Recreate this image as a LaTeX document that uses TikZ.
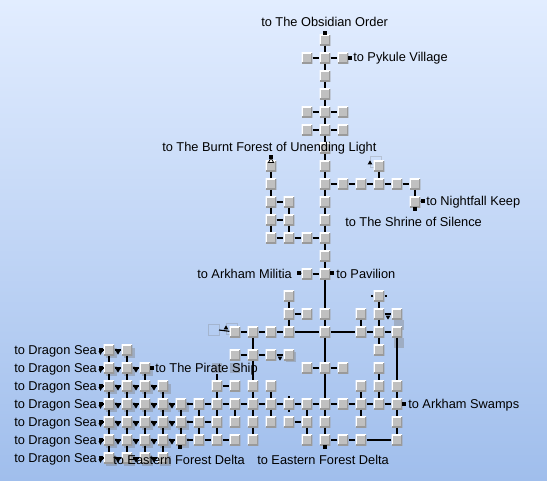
\documentclass[tikz,border=0pt]{standalone}
\usepackage{xcolor}
\usepackage{fontspec}
\setmainfont{Liberation Sans}
\usetikzlibrary{shapes.geometric}

\definecolor{roomgray}{HTML}{C0C0C0}
\definecolor{roomdark}{HTML}{9A9A9A}
\definecolor{bgtop}{HTML}{E2EDFF}
\definecolor{bgbottom}{HTML}{A0BEEC}

\tikzset{
    room/.style={minimum size=8pt, inner sep=0pt, fill=roomgray,
        path picture={
            \draw[white, line width=1.4pt] (path picture bounding box.south west) -- (path picture bounding box.north west) -- (path picture bounding box.north east);
            \draw[roomdark, line width=1.4pt] (path picture bounding box.south west) -- (path picture bounding box.south east) -- (path picture bounding box.north east);
        }},
    ghost/.style={minimum size=8pt, inner sep=0pt, fill=gray, fill opacity=0.4},
    ghostline/.style={minimum size=8pt, inner sep=0pt, draw=gray, draw opacity=0.3},
    link/.style={line width=0.85pt},
    exit/.style={minimum size=2.6pt, inner sep=0pt, fill=black},
    downmark/.style={regular polygon, regular polygon sides=3, shape border rotate=180, minimum size=4pt, inner sep=0pt, fill=black},
    upmark/.style={regular polygon, regular polygon sides=3, minimum size=4pt, inner sep=0pt, fill=black},
    label/.style={anchor=west, inner sep=0pt, yshift=-0.7pt, font=\fontsize{9.6pt}{11pt}\selectfont},
}

\begin{document}
\begin{tikzpicture}[x=0.75pt, y=-0.75pt]
    \shade[top color=bgtop, bottom color=bgbottom] (0,0) rectangle (547,480);
    \useasboundingbox (0,0) rectangle (547,480);

    % Ghost rooms
    \foreach \y/\xs in {350/{109,127}, 368/{109,127,145}, 386/{109,127,145,163}, 404/{109,127,145,163,181}, 422/{109,127,145,163,181}, 440/{109,127,145,163,181}, 458/{109,127,145,163}}
        \foreach \x in \xs
            \node[ghost] (g\x-\y) at (\x+2.5,\y+3) {};
    \node[ghost] (g399-325) at (399,325) {};
    \node[ghost] (g399-343) at (399,343) {};
    \node[ghost] (g291-357) at (291,357) {};
    \node[ghost] (g217-368) at (217,368) {};
    \node[ghost] (g235-368) at (235,368) {};
    \node[ghostline] (g376-162) at (376,162) {};
    \node[ghostline] (g214-330) at (214,330) {};
    \node[ghostline] (g232-329) at (232,329) {};

    % Rooms
    \foreach \y/\xs in {40/{325}, 58/{307,325,343}, 76/{325}, 94/{325}, 112/{307,325,343}, 130/{307,325,343}, 148/{325},
        166/{271,325,379}, 184/{271,325,343,361,379,397,415}, 202/{271,289,325,415}, 220/{271,289,325},
        238/{271,289,307,325}, 256/{325}, 274/{307,325}, 296/{289,379}, 314/{289,307,325,361,379,397},
        332/{235,253,271,289,325,361,379,397}, 350/{109,127,379}, 355/{235,253,271,289}, 368/{109,127,145,307,325,343,379},
        386/{109,127,145,163,217,235,253,271,361,379,397},
        404/{109,127,145,163,181,199,217,235,253,271,289,307,325,343,361,379,397},
        422/{109,127,145,163,181,199,217,235,253,271,289,307,325,361,397},
        440/{109,127,145,163,181,199,217,235,253,307,325,343,361,397}, 458/{109,127,145,163}}
        \foreach \x in \xs
            \node[room] (r\x-\y) at (\x,\y) {};

    % Main road
    \draw[link] (r325-40) -- (r325-58) -- (r325-76) -- (r325-94) -- (r325-112) -- (r325-130) -- (r325-148) -- (r325-166) -- (r325-184) -- (r325-202) -- (r325-220) -- (r325-238) -- (r325-256) -- (r325-274) -- (r325-314) -- (r325-332) -- (r325-368) -- (r325-404) -- (r325-422) -- (r325-440);
    \draw[link] (r307-58) -- (r325-58) -- (r343-58);
    \draw[link] (r307-112) -- (r325-112) -- (r343-112);
    \draw[link] (r307-130) -- (r325-130) -- (r343-130);
    \draw[link] (r325-184) -- (r343-184) -- (r361-184) -- (r379-184) -- (r397-184) -- (r415-184) -- (r415-202);
    \draw[link] (r379-166) -- (r379-184);
    \draw[link] (r271-166) -- (r271-184) -- (r271-202) -- (r271-220) -- (r271-238) -- (r289-238) -- (r307-238) -- (r325-238);
    \draw[link] (r289-202) -- (r289-220) -- (r289-238);
    \draw[link] (r271-202) -- (r289-202);
    \draw[link] (r271-220) -- (r289-220);
    \draw[link] (r307-274) -- (r325-274);

    % Middle
    \draw[link] (r235-332) -- (r253-332) -- (r271-332) -- (r289-332) -- (r325-332) -- (r361-332) -- (r379-332) -- (r397-332) -- (r397-386) -- (r397-404) -- (r397-422) -- (r397-440) -- (r361-440) -- (r343-440) -- (r325-440);
    \draw[link] (r289-296) -- (r289-314) -- (r289-332);
    \draw[link] (r289-314) -- (r307-314);
    \draw[link] (r361-314) -- (r361-332);
    \draw[link] (r379-296) -- (r379-314) -- (r379-332) -- (r379-350);
    \draw[link] (r379-314) -- (r397-314);
    \draw[link] (r235-355) -- (r253-355) -- (r271-355) -- (r289-355);
    \draw[link] (r253-332) -- (r253-355) -- (r253-386);
    \draw[link] (r307-368) -- (r325-368) -- (r343-368);
    \draw[link] (r379-368) -- (r379-386) -- (r379-404);
    \draw[link] (r361-386) -- (r361-404) -- (r361-422);
    \draw[link] (r253-386) -- (r253-404) -- (r253-422) -- (r253-440);
    \draw[link] (r271-386) -- (r271-404) -- (r271-422);
    \draw[link] (r289-422) -- (r307-422);
    \draw[link] (r307-404) -- (r307-422) -- (r307-440);

    % Long row and the south west block
    \draw[link] (r109-404) -- (r127-404) -- (r145-404) -- (r163-404) -- (r181-404) -- (r199-404) -- (r217-404) -- (r235-404) -- (r253-404) -- (r271-404) -- (r289-404) -- (r307-404) -- (r325-404) -- (r343-404) -- (r361-404) -- (r379-404) -- (r397-404);
    \draw[link] (r109-350) -- (r127-350);
    \draw[link] (r109-368) -- (r127-368) -- (r145-368);
    \draw[link] (r109-386) -- (r127-386) -- (r145-386) -- (r163-386);
    \draw[link] (r109-422) -- (r127-422) -- (r145-422) -- (r163-422) -- (r181-422) -- (r199-422) -- (r217-422);
    \draw[link] (r109-440) -- (r127-440) -- (r145-440) -- (r163-440) -- (r181-440) -- (r199-440) -- (r217-440) -- (r235-440);
    \draw[link] (r109-458) -- (r127-458) -- (r145-458) -- (r163-458);
    \draw[link] (r109-350) -- (r109-368) -- (r109-386) -- (r109-404) -- (r109-422) -- (r109-440) -- (r109-458);
    \draw[link] (r127-350) -- (r127-368) -- (r127-386) -- (r127-404) -- (r127-422) -- (r127-440) -- (r127-458);
    \draw[link] (r145-368) -- (r145-386) -- (r145-404) -- (r145-422) -- (r145-440) -- (r145-458);
    \draw[link] (r163-386) -- (r163-404) -- (r163-422) -- (r163-440) -- (r163-458);
    \draw[link] (r181-404) -- (r181-422) -- (r181-440);
    \draw[link] (r199-404) -- (r199-422) -- (r199-440);
    \draw[link] (g217-368) -- (r217-386) -- (r217-404) -- (r217-422) -- (r217-440);
    \draw[link] (r217-386) -- (r235-386);
    \draw[link] (r235-404) -- (r235-422);

    % Down marks between rooms
    \foreach \y/\xs in {352/{118}, 370/{118,136}, 388/{118,136,154}, 406/{118,136,154,172}, 424/{118,136,154,172}, 442/{118,136,154,172}, 460/{118,136,154}}
        \foreach \x in \xs
            \node[downmark] (m\x-\y) at (\x,\y) {};
    \node[downmark] (m388-317) at (388,317) {};
    \node[downmark] (m280-358) at (280,358) {};
    \node[upmark] (m370-163) at (370,163) {};
    \node[upmark] (m226-328) at (226,328) {};
    \node[upmark, fill=white, draw=black, line width=0.6pt, minimum size=4.5pt] (m271-161) at (271,161) {};

    % Exits
    \foreach \n/\x/\y in {a/325/33, b/350/58, c/271/157, d/423/201, e/415/209, f/299/273, g/332/273, h/152/368, i/404/404, j/180/447, k/325/447}
        \node[exit] (e\n) at (\x,\y) {};
    \draw[link] (r325-40) -- (ea);
    \draw[link] (r343-58) -- (eb);
    \draw[link] (r415-202) -- (ed);
    \draw[link] (r415-202) -- (ee);
    \draw[link] (r307-274) -- (ef);
    \draw[link] (r325-274) -- (eg);
    \draw[link] (r145-368) -- (eh);
    \draw[link] (r397-404) -- (ei);
    \draw[link] (r325-440) -- (ek);
    \foreach \y in {351,369,387,405,423,441,459} {
        \node[exit] (w\y) at (101,\y-1) {};
        \node[downmark, minimum size=3.5pt] (v\y) at (100.5,\y+1.5) {};
        \draw[link] (r109-\the\numexpr\y-1\relax) -- (w\y);
    }

    % Stubs without a room at the end
    \coordinate (s289u) at (289,396);
    \coordinate (s289d) at (289,412);
    \coordinate (s379w) at (371,296);
    \coordinate (s379e) at (387,296);
    \coordinate (s219) at (219,330);
    \draw[link] (r289-404) -- (s289u);
    \draw[link] (r289-404) -- (s289d);
    \draw[link] (r379-296) -- (s379w);
    \draw[link] (r379-296) -- (s379e);
    \draw[link] (r235-332) -- (s219);

    % Labels
    \node[label] (obsidian) at (261,21) {to The Obsidian Order};
    \node[label] (pykule) at (353,57) {to Pykule Village};
    \node[label] (burnt) at (162,147) {to The Burnt Forest of Unending Light};
    \node[label] (nightfall) at (426,201) {to Nightfall Keep};
    \node[label] (shrine) at (345,221) {to The Shrine of Silence};
    \node[label] (militia) at (197,273) {to Arkham Militia};
    \node[label] (pavilion) at (336,273) {to Pavilion};
    \node[label] (pirate) at (155,368) {to The Pirate Ship};
    \node[label] (swamps) at (408,404) {to Arkham Swamps};
    \node[label] (deltaw) at (113,459) {to Eastern Forest Delta};
    \node[label] (deltae) at (257,459) {to Eastern Forest Delta};
    \foreach \y in {350,368,386,404,422,440,458}
        \node[label] (sea\y) at (14,\y) {to Dragon Sea};
\end{tikzpicture}
\end{document}
